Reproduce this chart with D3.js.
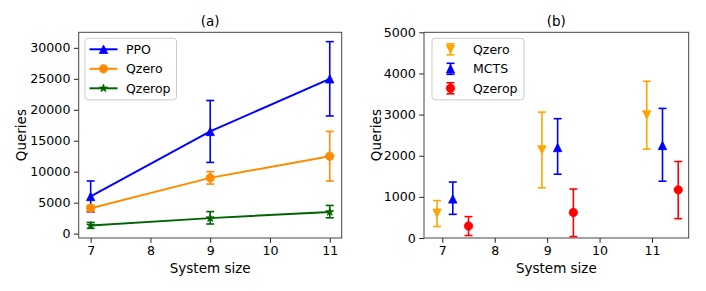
<!DOCTYPE html>
<html><head><meta charset="utf-8">
<script src="https://cdn.jsdelivr.net/npm/d3@7"></script>
<style>body{margin:0;background:#fff;}svg{display:block;font-family:"DejaVu Sans",sans-serif;}</style>
</head><body>
<svg id="c" width="706" height="291"></svg>
<script>
// ---- data: panel (a)
const sizesA = [7, 9, 11];
const ppoMean = [6000, 16500, 25000];
const ppoLow = [3500, 11500, 19000];
const ppoHigh = [8500, 21500, 31000];
const qzeroAMean = [4100, 9000, 12500];
const qzeroALow = [3600, 8000, 8500];
const qzeroAHigh = [4600, 10000, 16500];
const qzeropAMean = [1300, 2500, 3500];
const qzeropALow = [850, 1550, 2550];
const qzeropAHigh = [1800, 3550, 4550];
const xTicksA = [7, 8, 9, 10, 11];
const yTicksA = [0, 5000, 10000, 15000, 20000, 25000, 30000];

// ---- data: panel (b)
const qzeroBX = [6.9, 8.9, 10.9];
const qzeroBMean = [600, 2140, 2990];
const qzeroBLow = [280, 1220, 2160];
const qzeroBHigh = [910, 3060, 3810];
const mctsX = [7.2, 9.2, 11.2];
const mctsMean = [950, 2200, 2250];
const mctsLow = [575, 1550, 1380];
const mctsHigh = [1360, 2900, 3150];
const qzeropBX = [7.5, 9.5, 11.5];
const qzeropBMean = [290, 620, 1170];
const qzeropBLow = [60, 35, 470];
const qzeropBHigh = [520, 1190, 1860];
const xTicksB = [7, 8, 9, 10, 11];
const yTicksB = [0, 1000, 2000, 3000, 4000, 5000];

const svg = d3.select("#c");
const R = 4.2;
const markerPath = {
  up: `M0,${-R}L${-R},${R}L${R},${R}Z`,
  down: `M0,${R}L${-R},${-R}L${R},${-R}Z`,
  circle: d3.symbol(d3.symbolCircle, Math.PI * R * R)(),
  star: (() => { let p = []; for (let i = 0; i < 10; i++) { const r = i % 2 ? R * 0.382 : R; const a = -Math.PI / 2 + i * Math.PI / 5; p.push([r * Math.cos(a), r * Math.sin(a)]); } return "M" + p.join("L") + "Z"; })()
};

function panel(o) {
  const g = svg.append("g");
  const x = d3.scaleLinear().domain(o.xd).range([o.l, o.r]);
  const y = d3.scaleLinear().domain(o.yd).range([o.b, o.t]);
  const ax = g.append("g").attr("transform", `translate(0,${o.b})`)
    .call(d3.axisBottom(x).tickValues(o.xt).tickSize(4.8).tickPadding(3.5).tickFormat(d3.format("d")));
  const ay = g.append("g").attr("transform", `translate(${o.l},0)`)
    .call(d3.axisLeft(y).tickValues(o.yt).tickSize(4.8).tickPadding(3.5).tickFormat(d => String(d)));
  [ax, ay].forEach(a => {
    a.attr("font-size", null).attr("font-family", null);
    a.select(".domain").remove();
    a.selectAll("line").attr("stroke", "#222").attr("stroke-width", 1);
    a.selectAll("text").style("font-size", "12.6px").style("font-family", "'DejaVu Sans'").attr("fill", "#000");
  });
  g.append("rect").attr("x", o.l).attr("y", o.t).attr("width", o.r - o.l).attr("height", o.b - o.t)
    .attr("fill", "none").attr("stroke", "#444").attr("stroke-width", 1);
  g.append("text").attr("x", (o.l + o.r) / 2).attr("y", o.t - 6).attr("text-anchor", "middle")
    .style("font-size", "13.5px").text(o.title);
  g.append("text").attr("x", (o.l + o.r) / 2).attr("y", 273).attr("text-anchor", "middle")
    .style("font-size", "13.5px").text("System size");
  g.append("text").attr("transform", `translate(${o.yl},${(o.t + o.b) / 2}) rotate(-90)`)
    .attr("text-anchor", "middle").attr("dominant-baseline", "central").style("font-size", "13.5px").text("Queries");

  o.series.forEach(s => {
    const pts = s.x.map((xv, i) => ({x: xv, m: s.mean[i], lo: s.low[i], hi: s.high[i]}));
    if (s.line) {
      g.append("path").attr("d", d3.line().x(d => x(d.x)).y(d => y(d.m))(pts))
        .attr("fill", "none").attr("stroke", s.color).attr("stroke-width", 2);
    }
    const eb = g.append("g").attr("stroke", s.color).attr("stroke-width", 1.6);
    pts.forEach(d => {
      eb.append("line").attr("x1", x(d.x)).attr("x2", x(d.x)).attr("y1", y(d.lo)).attr("y2", y(d.hi));
      [d.lo, d.hi].forEach(v => eb.append("line").attr("x1", x(d.x) - 4).attr("x2", x(d.x) + 4).attr("y1", y(v)).attr("y2", y(v)));
    });
    g.append("g").selectAll("path").data(pts).join("path")
      .attr("d", markerPath[s.marker]).attr("transform", d => `translate(${x(d.x)},${y(d.m)})`)
      .attr("fill", s.color).attr("stroke", s.color).attr("stroke-width", 0.8);
  });

  const lg = g.append("g");
  lg.append("rect").attr("x", o.lg.x).attr("y", o.lg.y).attr("width", o.lg.w).attr("height", o.lg.h)
    .attr("rx", 3).attr("fill", "#fff").attr("fill-opacity", 0.8).attr("stroke", "#ccc").attr("stroke-width", 1);
  o.series.forEach((s, i) => {
    const cy = o.lg.y + 11 + i * 19.5;
    const hx = o.lg.x + 18.5;
    const eg = lg.append("g").attr("stroke", s.color);
    if (s.line) {
      eg.append("line").attr("x1", hx - 14).attr("x2", hx + 14).attr("y1", cy).attr("y2", cy).attr("stroke-width", 2);
    } else {
      eg.attr("stroke-width", 1.6);
      eg.append("line").attr("x1", hx).attr("x2", hx).attr("y1", cy - 5.5).attr("y2", cy + 5.5);
      eg.append("line").attr("x1", hx - 4).attr("x2", hx + 4).attr("y1", cy - 5.5).attr("y2", cy - 5.5);
      eg.append("line").attr("x1", hx - 4).attr("x2", hx + 4).attr("y1", cy + 5.5).attr("y2", cy + 5.5);
    }
    lg.append("path").attr("d", markerPath[s.marker]).attr("transform", `translate(${hx},${cy})`)
      .attr("fill", s.color).attr("stroke", s.color).attr("stroke-width", 0.8);
    lg.append("text").attr("x", o.lg.tx).attr("y", cy).attr("dominant-baseline", "central")
      .style("font-size", "12.5px").text(s.name);
  });
}

panel({
  title: "(a)", l: 78.7, r: 341.7, t: 32.3, b: 238, yl: 20.7,
  xd: [6.8, 11.2], yd: [-710, 32510], xt: xTicksA, yt: yTicksA,
  lg: {x: 85, y: 38.3, w: 91.5, h: 61.5, tx: 126},
  series: [
    {name: "PPO", color: "#0000ff", marker: "up", line: true, x: sizesA, mean: ppoMean, low: ppoLow, high: ppoHigh},
    {name: "Qzero", color: "#ff8c00", marker: "circle", line: true, x: sizesA, mean: qzeroAMean, low: qzeroALow, high: qzeroAHigh},
    {name: "Qzerop", color: "#006400", marker: "star", line: true, x: sizesA, mean: qzeropAMean, low: qzeropALow, high: qzeropAHigh}
  ]
});

panel({
  title: "(b)", l: 424, r: 688.7, t: 32.3, b: 238, yl: 376.3,
  xd: [6.651, 11.70], yd: [0, 5000], xt: xTicksB, yt: yTicksB,
  lg: {x: 432, y: 38.3, w: 92, h: 61.5, tx: 473},
  series: [
    {name: "Qzero", color: "#ffa500", marker: "down", line: false, x: qzeroBX, mean: qzeroBMean, low: qzeroBLow, high: qzeroBHigh},
    {name: "MCTS", color: "#0000ff", marker: "up", line: false, x: mctsX, mean: mctsMean, low: mctsLow, high: mctsHigh},
    {name: "Qzerop", color: "#ff0000", marker: "circle", line: false, x: qzeropBX, mean: qzeropBMean, low: qzeropBLow, high: qzeropBHigh}
  ]
});
</script>
</body></html>
